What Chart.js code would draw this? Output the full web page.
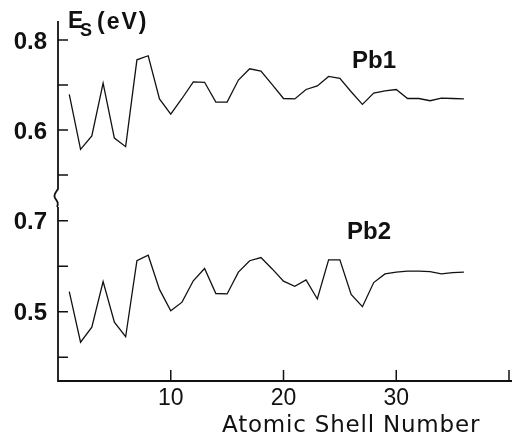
<!DOCTYPE html>
<html>
<head>
<meta charset="utf-8">
<script src="https://cdn.jsdelivr.net/npm/chart.js@4.4.1/dist/chart.umd.min.js"></script>
<style>
  html, body { margin: 0; padding: 0; background: #fff; }
  canvas { display: block; }
</style>
</head>
<body>
<canvas id="myChart" width="513" height="435"></canvas>
<script>
// shell numbers along the x axis
const shells = [1, 2, 3, 4, 5, 6, 7, 8, 9, 10, 11, 12, 13, 14, 15, 16, 17, 18,
  19, 20, 21, 22, 23, 24, 25, 26, 27, 28, 29, 30, 31, 32, 33, 34, 35, 36];

// E_s (eV)
const pb1 = [0.679, 0.557, 0.587, 0.704, 0.582, 0.563, 0.756, 0.765, 0.669, 0.635,
  0.670, 0.707, 0.706, 0.662, 0.662, 0.711, 0.736, 0.731, 0.701, 0.670,
  0.669, 0.690, 0.698, 0.719, 0.715, 0.685, 0.657, 0.682, 0.687, 0.690,
  0.670, 0.670, 0.665, 0.671, 0.670, 0.669];
const pb2 = [0.544, 0.433, 0.466, 0.566, 0.477, 0.445, 0.612, 0.624, 0.549, 0.502,
  0.521, 0.568, 0.595, 0.540, 0.539, 0.587, 0.612, 0.619, 0.594, 0.567,
  0.556, 0.570, 0.528, 0.614, 0.614, 0.538, 0.511, 0.564, 0.583, 0.587,
  0.589, 0.589, 0.588, 0.583, 0.586, 0.587];

// tick values
const xTicks = [10, 20, 30, 40];
const xTickLabels = ['10', '20', '30'];
const topTicks = [0.5, 0.6, 0.7, 0.8];
const topTickLabels = [0.8, 0.6];
const botTicks = [0.4, 0.5, 0.6, 0.7];
const botTickLabels = [0.7, 0.5];

const ink = '#111';

// draws the broken axis, ticks and labels from the chart's own scales
const axesPlugin = {
  id: 'axesPlugin',
  afterDraw(chart) {
    const ctx = chart.ctx;
    const xs = chart.scales.x;
    const yt = chart.scales.yTop;
    const yb = chart.scales.yBot;
    const ax = xs.getPixelForValue(0);
    const baseY = yb.getPixelForValue(yb.min);
    ctx.save();
    ctx.strokeStyle = ink;
    ctx.fillStyle = ink;
    ctx.lineWidth = 1.8;
    ctx.lineCap = 'butt';

    // upper y axis
    ctx.beginPath();
    ctx.moveTo(ax, yt.getPixelForValue(yt.max));
    ctx.lineTo(ax, 189);
    // break mark
    ctx.bezierCurveTo(ax - 2, 192, ax - 5, 195, ax - 3, 198);
    ctx.bezierCurveTo(ax - 1, 201, ax + 1, 203, ax - 1, 207);
    ctx.stroke();

    // lower y axis + x axis
    ctx.beginPath();
    ctx.moveTo(ax, 207);
    ctx.lineTo(ax, baseY);
    ctx.lineTo(512, baseY);
    ctx.stroke();

    // y ticks pointing inward
    ctx.lineWidth = 1.5;
    ctx.beginPath();
    topTicks.forEach(v => {
      const y = yt.getPixelForValue(v);
      ctx.moveTo(ax, y); ctx.lineTo(ax + 10, y);
    });
    botTicks.forEach(v => {
      const y = yb.getPixelForValue(v);
      ctx.moveTo(ax, y); ctx.lineTo(ax + 10, y);
    });
    xTicks.forEach(v => {
      const x = xs.getPixelForValue(v);
      ctx.moveTo(x, baseY); ctx.lineTo(x, baseY - 11);
    });
    ctx.stroke();

    // y tick labels
    ctx.font = 'bold 24px "Liberation Sans"';
    ctx.textAlign = 'right';
    ctx.textBaseline = 'middle';
    topTickLabels.forEach(v => ctx.fillText(v.toFixed(1), ax - 11, yt.getPixelForValue(v) + 2));
    botTickLabels.forEach(v => ctx.fillText(v.toFixed(1), ax - 11, yb.getPixelForValue(v) + 2));

    // x tick labels
    ctx.font = '23px "Liberation Sans"';
    ctx.textAlign = 'center';
    ctx.textBaseline = 'alphabetic';
    xTickLabels.forEach(t => ctx.fillText(t, xs.getPixelForValue(Number(t)), 405));

    // x axis title
    ctx.font = '23px "DejaVu Sans"';
    ctx.textAlign = 'left';
    ctx.letterSpacing = '0.8px';
    ctx.fillText('Atomic Shell Number', 222, 432);
    ctx.letterSpacing = '0px';

    // y axis title E_s (eV)
    ctx.font = 'bold 23px "Liberation Sans"';
    ctx.fillText('E', 68, 28);
    ctx.font = 'bold 18px "Liberation Sans"';
    ctx.fillText('S', 80, 36);
    ctx.font = 'bold 23px "Liberation Sans"';
    ctx.letterSpacing = '2px';
    ctx.fillText('(eV)', 97, 29);
    ctx.letterSpacing = '0px';

    // series labels
    ctx.font = 'bold 24px "Liberation Sans"';
    ctx.fillText('Pb1', 352, 68);
    ctx.fillText('Pb2', 347, 239);
    ctx.restore();
  }
};

// pixel frame of the plot: y=21..381, x=58..509
// upper scale: 0.8 at y=40, 450 px per eV; lower: 0.7 at y=220.7, 455 px per eV
const top0 = 21, bot0 = 381;
const topMax = 0.8 + (40 - top0) / 450, topMin = 0.8 - (bot0 - 40) / 450;
const botMax = 0.7 + (220.7 - top0) / 455, botMin = 0.7 - (bot0 - 220.7) / 455;

const ctx = document.getElementById('myChart');
new Chart(ctx, {
  type: 'line',
  data: {
    datasets: [{
      label: 'Pb1',
      data: shells.map((s, i) => ({ x: s, y: pb1[i] })),
      yAxisID: 'yTop',
      borderColor: ink,
      borderWidth: 1.3,
      pointRadius: 0,
      tension: 0
    }, {
      label: 'Pb2',
      data: shells.map((s, i) => ({ x: s, y: pb2[i] })),
      yAxisID: 'yBot',
      borderColor: ink,
      borderWidth: 1.3,
      pointRadius: 0,
      tension: 0
    }]
  },
  options: {
    responsive: false,
    animation: false,
    devicePixelRatio: 1,
    layout: { padding: { left: 58, right: 4, top: top0, bottom: 435 - bot0 } },
    scales: {
      x: { type: 'linear', min: 0, max: 40, display: false },
      yTop: { type: 'linear', min: topMin, max: topMax, display: false },
      yBot: { type: 'linear', min: botMin, max: botMax, display: false }
    },
    plugins: {
      legend: { display: false },
      tooltip: { enabled: false }
    }
  },
  plugins: [axesPlugin]
});
</script>
</body>
</html>
